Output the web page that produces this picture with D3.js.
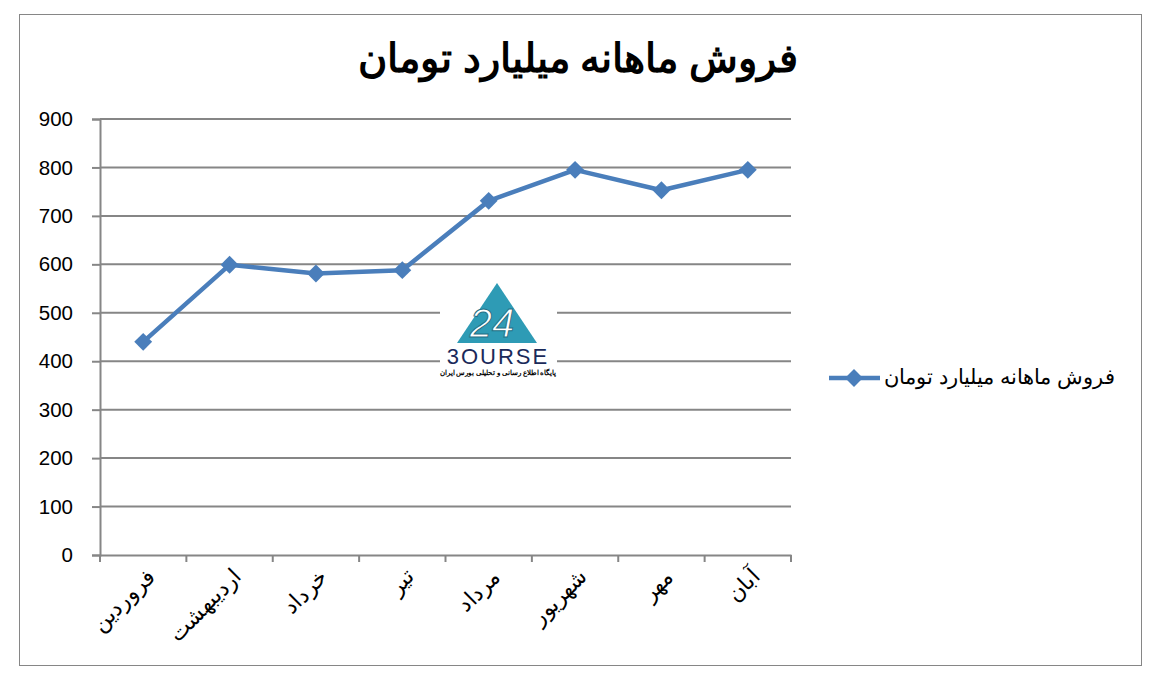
<!DOCTYPE html>
<html><head><meta charset="utf-8">
<script src="https://cdn.jsdelivr.net/npm/d3@7/dist/d3.min.js"></script>
<style>body{margin:0;background:#fff}svg{display:block}</style>
</head><body>
<svg id="c" width="1153" height="673"></svg>
<script>
const title = "فروش ماهانه میلیارد تومان";
const seriesName = "فروش ماهانه میلیارد تومان";
const months = ["فروردین","اردیبهشت","خرداد","تیر","مرداد","شهریور","مهر","آبان"];
const sales = [440, 599, 581, 588, 731, 795, 753, 795];
const yTicks = [0,100,200,300,400,500,600,700,800,900];

const svg = d3.select("#c");
const font = "'Liberation Sans', Arial, sans-serif";
const L = 100, R = 791, T = 119, B = 555;
const color = "#4A7EBB", grid = "#868686";

svg.append("rect").attr("x",19.5).attr("y",14.5).attr("width",1122).attr("height",651)
  .attr("fill","#fff").attr("stroke",grid).attr("stroke-width",1);

const x = d3.scaleBand().domain(months).range([L,R]);
const y = d3.scaleLinear().domain([0,900]).range([B,T]);

// gridlines
svg.append("g").selectAll("line").data(yTicks.filter(d=>d>0)).join("line")
  .attr("x1",L).attr("x2",R).attr("y1",d=>y(d)).attr("y2",d=>y(d))
  .attr("stroke",grid).attr("stroke-width",2);

// y axis
const ya = svg.append("g").attr("transform",`translate(${L},0)`)
  .call(d3.axisLeft(y).tickValues(yTicks).tickSize(8).tickPadding(19));
ya.select(".domain").attr("stroke",grid).attr("stroke-width",2);
ya.selectAll(".tick line").attr("stroke",grid).attr("stroke-width",2);
ya.selectAll("text").attr("font-family",font).attr("font-size",20.5).attr("fill","#000");

// x axis
const xa = svg.append("g").attr("transform",`translate(0,${B})`)
  .call(d3.axisBottom(x).tickSize(0).tickFormat(""));
xa.select(".domain").attr("stroke",grid).attr("stroke-width",2);
const bounds = months.map(m=>x(m)).concat([R]);
xa.selectAll("line.bt").data(bounds).join("line").attr("class","bt")
  .attr("x1",d=>d).attr("x2",d=>d).attr("y1",0).attr("y2",7)
  .attr("stroke",grid).attr("stroke-width",2);
xa.selectAll("text.lab").data(months).join("text").attr("class","lab")
  .attr("transform",d=>`translate(${x(d)+x.bandwidth()/2+9},19) rotate(-45)`)
  .attr("text-anchor","end").attr("dominant-baseline","middle")
  .attr("font-family",font).attr("font-size",22).attr("fill","#000")
  .text(d=>d);

// watermark
const wm = svg.append("g").attr("transform","translate(440,275)");
wm.append("rect").attr("width",117).attr("height",105).attr("fill","#fff");
wm.append("path").attr("d","M57,8 L97,68 L17,68 Z").attr("fill","#2E9BB5");
wm.append("text").attr("x",52).attr("y",62).attr("text-anchor","middle")
  .attr("font-family",font).attr("font-size",40).attr("font-style","italic")
  .attr("fill","#fff").attr("stroke","#1f6f85").attr("stroke-width",1).text("24");
wm.append("text").attr("x",58).attr("y",89).attr("text-anchor","middle")
  .attr("font-family",font).attr("font-size",22).attr("letter-spacing",2).attr("fill","#1a2a5a").text("3OURSE");
wm.append("text").attr("x",58).attr("y",100).attr("text-anchor","middle")
  .attr("font-family","'Noto Sans', sans-serif").attr("font-size",7).attr("font-weight","bold")
  .attr("fill","#000").text("پایگاه اطلاع رسانی و تحلیلی بورس ایران");

// line
const cx = d => x(d)+x.bandwidth()/2;
svg.append("path").datum(months)
  .attr("d", d3.line().x(cx).y((d,i)=>y(sales[i])))
  .attr("fill","none").attr("stroke",color).attr("stroke-width",4.5).attr("stroke-linejoin","round");
svg.append("g").selectAll("path").data(months).join("path")
  .attr("d", d3.symbol().type(d3.symbolSquare).size(160))
  .attr("transform",(d,i)=>`translate(${cx(d)},${y(sales[i])}) rotate(45)`)
  .attr("fill",color);

// title
svg.append("text").attr("x",578).attr("y",72).attr("text-anchor","middle")
  .attr("font-family",font).attr("font-weight","bold").attr("font-size",39.5).attr("fill","#000")
  .attr("direction","rtl").text(title);

// legend
const lg = svg.append("g").attr("transform","translate(0,378)");
lg.append("line").attr("x1",829).attr("x2",880).attr("y1",0).attr("y2",0)
  .attr("stroke",color).attr("stroke-width",4.5);
lg.append("path").attr("d",d3.symbol().type(d3.symbolSquare).size(160)())
  .attr("transform","translate(854,0) rotate(45)").attr("fill",color);
lg.append("text").attr("x",1115).attr("y",0).attr("dominant-baseline","middle")
  .attr("text-anchor","start").attr("direction","rtl")
  .attr("font-family",font).attr("font-size",21).attr("fill","#000").text(seriesName);
</script>
</body></html>
